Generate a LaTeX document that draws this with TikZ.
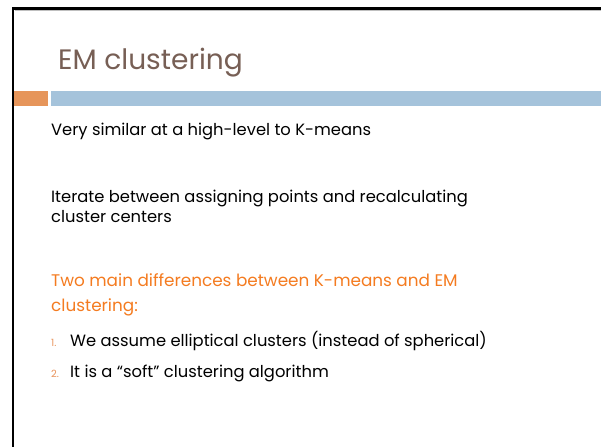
\documentclass[tikz,border=0pt]{standalone}
\usepackage{fontspec}
\setmainfont{Poppins}
\definecolor{titlegray}{HTML}{775F55}
\definecolor{barorange}{HTML}{E6955A}
\definecolor{barblue}{HTML}{A5C3DB}
\definecolor{headorange}{HTML}{F47B20}
\definecolor{numorange}{HTML}{E8925A}
\tikzset{
    txt/.style={anchor=base west,inner sep=0pt,font=\fontsize{16.4}{19}\selectfont},
}

\begin{document}
\begin{tikzpicture}[x=1bp,y=-1bp]
    \useasboundingbox (0,0) rectangle (601,447);
    \draw[line width=2.5bp] (13,447)--(13,8.5)--(601,8.5);
    \draw[black!25] (14.5,10.5)--(601,10.5);
    \fill[barorange] (14,91) rectangle (48,106);
    \fill[barblue] (51,91) rectangle (601,106);
    \node[anchor=base west,inner sep=0pt,text=titlegray,font=\fontsize{28.2}{33}\selectfont]
        (title) at (58,70) {EM clustering};
    \node[txt] (similar) at (51,136) {Very similar at a high-level to K-means};
    \node[txt] (iterate) at (51,203) {Iterate between assigning points and recalculating};
    \node[txt] (centers) at (51,223) {cluster centers};
    \node[txt,text=headorange,font=\fontsize{16.9}{20}\selectfont] (diff) at (51,287) {Two main differences between K-means and EM};
    \node[txt,text=headorange,font=\fontsize{16.9}{20}\selectfont] (diffb) at (51,311) {clustering:};
    \foreach \y/\n/\t in {346/1/We assume elliptical clusters (instead of spherical),
                          377/2/It is a “soft” clustering algorithm}
    {
        \node[txt,text=numorange,font=\fontsize{10}{12}\selectfont] (num\n) at (51,\y) {\n.};
        \node[txt] (item\n) at (70,\y) {\t};
    }
\end{tikzpicture}
\end{document}
